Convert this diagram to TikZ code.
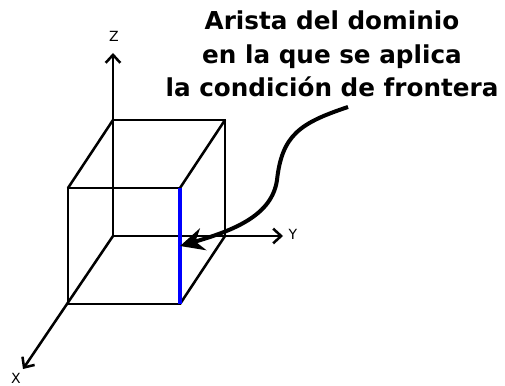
\documentclass[tikz,border=0pt]{standalone}
\usepackage{fontspec}
\setmainfont{DejaVu Sans}
\usetikzlibrary{arrows.meta,positioning,calc}
\definecolor{EdgeBlue}{HTML}{0000FF}
\tikzset{>={Straight Barb[length=6pt,width=11pt]},axislabel/.style={font=\fontsize{10.5}{11}\selectfont,inner sep=0pt},
 cubeline/.style={black,line width=1.9pt},axisline/.style={black,line width=1.9pt,->},
 titlenode/.style={font=\fontsize{18.5}{25.2}\selectfont\bfseries,align=center,inner sep=0pt}}
\begin{document}
\begin{tikzpicture}[x=.75pt,y=.75pt]
\useasboundingbox (0,0) rectangle (505,385);
% Corners of the cube, back face then front face.
\foreach \x/\y/\id in {113/149/bb,225/149/rb,113/265/bt,225/265/rt,68/81/fl,180/81/fb,68/197/tl,180/197/ft}{
 \coordinate (\id) at (\x,\y);
}
\node[axislabel] (zlabel) at (114,349){Z};
\node[axislabel] (ylabel) at (293,151){Y};
\node[axislabel] (xlabel) at (16,7){X};
\node[titlenode] (title) at (332,331){Arista del dominio\\en la que se aplica\\la condición de frontera};
\coordinate (zend) at (113,332);
\coordinate (yend) at (283,149);
\coordinate (xend) at (23,16);
% Hidden edges are drawn as plain lines here.
\draw[cubeline] (bb)--(bt)--(rt)--(rb)--(bb);
\draw[cubeline] (fl)--(tl)--(ft)--(fb)--(fl);
\draw[cubeline] (tl)--(bt);
\draw[cubeline] (ft)--(rt);
\draw[cubeline] (fb)--(rb);
\draw[axisline] (bt)--(zend);
\draw[axisline] (bb)--(yend);
\draw[axisline] (bb)--(xend);
\draw[EdgeBlue,line width=3.4pt] (fb)--(ft);
\coordinate (curvestart) at (348,278);
\coordinate (curvetip) at (180,139);
\draw[black,line width=3pt,-{Stealth[length=18pt,width=17pt,inset=6pt]}] (curvestart) .. controls (300,262) and (282,250) .. (277,205)
 .. controls (272,170) and (235,155) .. (curvetip);
\end{tikzpicture}
\end{document}
